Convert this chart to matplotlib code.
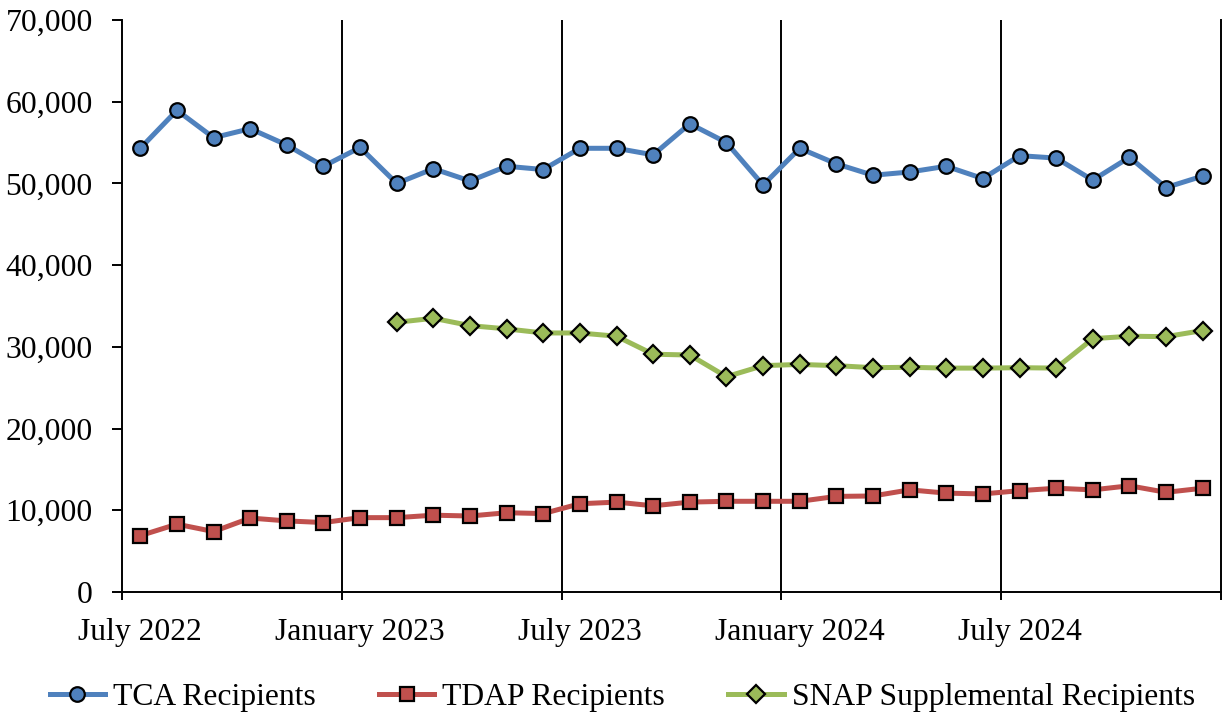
import numpy as np
import matplotlib
matplotlib.use("Agg")
import matplotlib.pyplot as plt
from matplotlib.ticker import FuncFormatter, FixedLocator

plt.rcParams['font.family'] = ['Liberation Serif', 'DejaVu Serif']

# monthly caseloads, July 2022 - December 2024
months = ['July 2022', 'August 2022', 'September 2022', 'October 2022', 'November 2022', 'December 2022',
          'January 2023', 'February 2023', 'March 2023', 'April 2023', 'May 2023', 'June 2023',
          'July 2023', 'August 2023', 'September 2023', 'October 2023', 'November 2023', 'December 2023',
          'January 2024', 'February 2024', 'March 2024', 'April 2024', 'May 2024', 'June 2024',
          'July 2024', 'August 2024', 'September 2024', 'October 2024', 'November 2024', 'December 2024']

tca = [54300, 58950, 55600, 56700, 54700, 52100,
       54400, 50000, 51800, 50300, 52100, 51700,
       54300, 54300, 53500, 57300, 55000, 49800,
       54300, 52400, 51000, 51400, 52100, 50600,
       53400, 53100, 50400, 53200, 49500, 50900]

tdap = [6900, 8300, 7400, 9050, 8700, 8500,
        9100, 9100, 9400, 9300, 9700, 9600,
        10800, 11000, 10550, 11000, 11100, 11100,
        11100, 11700, 11750, 12500, 12100, 12000,
        12400, 12700, 12500, 13000, 12200, 12700]

# SNAP supplement reporting begins February 2023
snap = [np.nan] * 7 + [33000, 33500, 32600, 32200, 31700, 31700,
                       31300, 29100, 29000, 26350, 27700, 27850,
                       27700, 27450, 27500, 27400, 27400, 27450,
                       27400, 31000, 31300, 31250, 32000]

tick_months = ['July 2022', 'January 2023', 'July 2023', 'January 2024', 'July 2024']

x = np.arange(len(months))
FS = 22.8

fig = plt.figure(figsize=(12.25, 7.17), dpi=100)
ax = fig.add_axes([122 / 1225, 1 - 592 / 717, (1221 - 122) / 1225, (592 - 20) / 717])

# vertical separators every six months
for b in np.arange(5.5, len(months) - 1, 6):
    ax.axvline(b, color='black', lw=1.4, zorder=1)

ax.plot(x, tca, color='#4F81BD', lw=3.6, marker='o', ms=10.5,
        mfc='#4F81BD', mec='black', mew=1.6, label='TCA Recipients', zorder=3)
ax.plot(x, tdap, color='#C0504D', lw=3.6, marker='s', ms=9.5,
        mfc='#C0504D', mec='black', mew=1.6, label='TDAP Recipients', zorder=3)
ax.plot(x, snap, color='#9BBB59', lw=3.6, marker='D', ms=8.8,
        mfc='#9BBB59', mec='black', mew=1.6, label='SNAP Supplemental Recipients', zorder=3)

ax.set_xlim(-0.5, len(months) - 0.5)
ax.set_ylim(0, 70000)
ax.set_yticks(np.arange(0, 70001, 10000))
ax.yaxis.set_major_formatter(FuncFormatter(lambda v, p: f'{int(v):,}'))

# labels sit on the month, tick marks sit on the boundaries
ax.set_xticks([months.index(m) for m in tick_months])
ax.set_xticklabels(tick_months)
ax.xaxis.set_minor_locator(FixedLocator(np.arange(-0.5, len(months), 6)))
ax.tick_params(axis='x', which='major', length=0, pad=19)
ax.tick_params(axis='x', which='minor', length=6, width=1.4, direction='out', color='black')
ax.tick_params(axis='y', length=7, width=1.4, direction='out', pad=14)
ax.tick_params(labelsize=FS)

ax.spines['top'].set_visible(False)
for side in ['left', 'bottom', 'right']:
    ax.spines[side].set_linewidth(1.4)

fig.legend(*ax.get_legend_handles_labels(), loc='center', bbox_to_anchor=(0.508, 1 - 697 / 717),
           ncol=3, frameon=False, fontsize=FS, handlelength=1.75, columnspacing=2.0,
           handletextpad=0.25, borderpad=0)

fig.savefig('out.png', dpi=100)
